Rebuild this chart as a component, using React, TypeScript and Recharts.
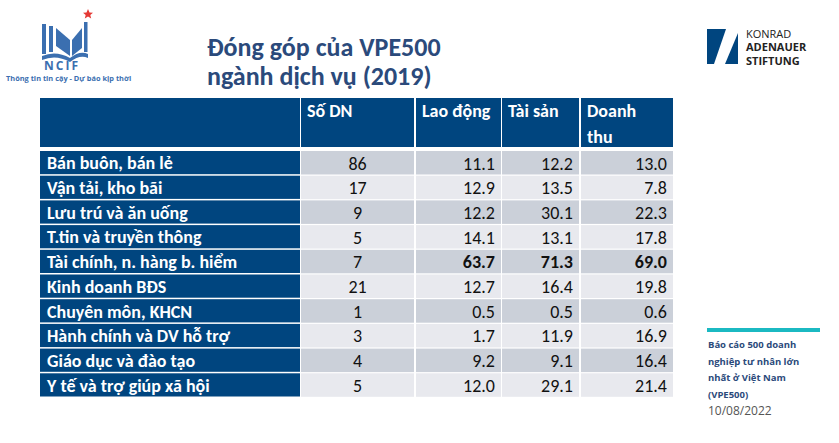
import React from "react"
import { BarChart, Bar, XAxis, YAxis } from "recharts"

// VPE500 - service sectors contribution (2019), %
const sectors = [
  "Bán buôn, bán lẻ",
  "Vận tải, kho bãi",
  "Lưu trú và ăn uống",
  "T.tin và truyền thông",
  "Tài chính, n. hàng b. hiểm",
  "Kinh doanh BĐS",
  "Chuyên môn, KHCN",
  "Hành chính và DV hỗ trợ",
  "Giáo dục và đào tạo",
  "Y tế và trợ giúp xã hội",
]
const firms = [86, 17, 9, 5, 7, 21, 1, 3, 4, 5]
const labour = [11.1, 12.9, 12.2, 14.1, 63.7, 12.7, 0.5, 1.7, 9.2, 12.0]
const assets = [12.2, 13.5, 30.1, 13.1, 71.3, 16.4, 0.5, 11.9, 9.1, 29.1]
const revenue = [13.0, 7.8, 22.3, 17.8, 69.0, 19.8, 0.6, 16.9, 16.4, 21.4]
const headers = ["Số DN", "Lao động", "Tài sản", "Doanh thu"]
const highlighted = "Tài chính, n. hàng b. hiểm"

const rows = sectors.map((name, i) => ({
  name,
  firms: firms[i],
  labour: labour[i],
  assets: assets[i],
  revenue: revenue[i],
}))

const W = 839
const H = 443
const FONT = "Carlito, 'Open Sans', 'Noto Sans', sans-serif"
const OPEN = "'Open Sans', sans-serif"
const BLUE = "#00457f"
const TITLE = "#2b4a7b"
const CELL_FS = 18

// column edges (px)
const colLeft = [40, 301, 416, 502, 581]
const colRight = [300, 414, 501, 579, 673]
const top = 151
const bottom = 398
const band = (bottom - top) / sectors.length

const NameTick = (props: any) => {
  const { y, payload } = props
  return (
    <g>
      <rect x={colLeft[0]} y={y - band / 2} width={colRight[0] - colLeft[0]} height={band - 1.5} fill={BLUE} />
      <text x={47} y={y + 6} fill="#fff" fontSize={CELL_FS} fontWeight={700} fontFamily={FONT}>
        {payload.value}
      </text>
    </g>
  )
}

const RowCells = (props: any) => {
  const { y, height, payload, index } = props
  const fill = index % 2 === 0 ? "#cbd0d9" : "#e8e9ee"
  const bold = payload.name === highlighted
  const base = y + height / 2 + 6
  const vals = [payload.labour, payload.assets, payload.revenue]
  return (
    <g>
      {[1, 2, 3, 4].map((c) => (
        <rect key={c} x={colLeft[c]} y={y} width={colRight[c] - colLeft[c]} height={height - 1.5} fill={fill} />
      ))}
      <text
        x={(colLeft[1] + colRight[1]) / 2}
        y={base}
        textAnchor="middle"
        fontSize={CELL_FS}
        fontFamily={FONT}
        fill="#111"
      >
        {payload.firms}
      </text>
      {vals.map((v: number, k: number) => (
        <text
          key={k}
          x={colRight[k + 2] - 6}
          y={base}
          textAnchor="end"
          fontSize={CELL_FS}
          fontWeight={bold ? 700 : 400}
          fontFamily={FONT}
          fill="#111"
        >
          {v.toFixed(1)}
        </text>
      ))}
    </g>
  )
}

function Overlay() {
  return (
    <svg width={W} height={H} style={{ position: "absolute", left: 0, top: 0, pointerEvents: "none" }}>
      {/* NCIF logo */}
      <g fill="#3b6fb0">
        <rect x={42} y={24} width={4} height={30} />
        <rect x={49} y={26} width={4} height={26} />
        <path d="M56 28 L70 40 L70 56 L56 46 Z" />
        <path d="M42 56 Q56 50 70 58 Q80 50 88 54 L88 58 Q80 54 70 62 Q56 54 42 60 Z" />
        <path d="M72 40 L82 28 L82 48 L72 56 Z" />
        <rect x={84} y={22} width={3.5} height={30} />
      </g>
      <polygon
        points="88,9 89.5,12.5 93,12.8 90.3,15 91.2,18.5 88,16.6 84.8,18.5 85.7,15 83,12.8 86.5,12.5"
        fill="#e53935"
      />
      <text x={44} y={70} fontSize={12} fontWeight={700} fill="#3b6fb0" fontFamily={OPEN} letterSpacing={2}>
        NCIF
      </text>
      <text x={6} y={81} fontSize={7.4} fontWeight={700} fill="#3b6fb0" fontFamily={OPEN}>
        Thông tin tin cậy - Dự báo kịp thời
      </text>

      {/* title */}
      <text x={207} y={56} fontSize={26} fontWeight={700} fill={TITLE} fontFamily={FONT}>
        Đóng góp của VPE500
      </text>
      <text x={207} y={85} fontSize={26} fontWeight={700} fill={TITLE} fontFamily={FONT}>
        ngành dịch vụ (2019)
      </text>

      {/* KAS logo */}
      <rect x={707} y={29} width={31} height={35} fill={BLUE} />
      <polygon points="726,29 738,29 738,33 725,64 714,64" fill="#fff" />
      <polygon points="730,54 738,54 738,58 728,58" fill={BLUE} />
      <text x={746} y={37.5} fontSize={11} fill="#222" fontFamily={OPEN}>KONRAD</text>
      <text x={746} y={51} fontSize={11} fontWeight={700} fill="#222" fontFamily={OPEN}>ADENAUER</text>
      <text x={746} y={64.5} fontSize={11} fontWeight={700} fill="#222" fontFamily={OPEN}>STIFTUNG</text>

      {/* header row */}
      {colLeft.map((l, c) => (
        <rect key={c} x={l} y={98} width={colRight[c] - l} height={49} fill={BLUE} />
      ))}
      {headers.map((h, i) => {
        const parts = h === "Doanh thu" ? ["Doanh", "thu"] : [h]
        return parts.map((p, j) => (
          <text
            key={i + "-" + j}
            x={colLeft[i + 1] + 6}
            y={117 + j * 26}
            fontSize={CELL_FS}
            fontWeight={700}
            fill="#fff"
            fontFamily={FONT}
          >
            {p}
          </text>
        ))
      })}

      {/* side note */}
      <rect x={707} y={328} width={113} height={4} fill="#1bb9c2" />
      {["Báo cáo 500 doanh", "nghiệp tư nhân lớn", "nhất ở Việt Nam", "(VPE500)"].map((t, i) => (
        <text key={i} x={708} y={348 + i * 16.7} fontSize={9.5} fontWeight={700} fill="#2b4a7b" fontFamily={OPEN}>
          {t}
        </text>
      ))}
      <text x={708} y={415} fontSize={12} fill="#555" fontFamily={OPEN}>
        10/08/2022
      </text>
    </svg>
  )
}

export default function App() {
  return (
    <div style={{ position: "absolute", left: 0, top: 0, width: W, height: H, background: "#fff" }}>
      <BarChart
        width={W}
        height={H}
        data={rows}
        layout="vertical"
        barCategoryGap={0}
        margin={{ top: top, bottom: H - bottom, left: colLeft[0], right: W - colRight[4] }}
      >
        <XAxis type="number" domain={[0, 1]} hide />
        <YAxis
          type="category"
          dataKey="name"
          width={colLeft[1] - colLeft[0]}
          axisLine={false}
          tickLine={false}
          interval={0}
          tick={<NameTick />}
        />
        <Bar dataKey={() => 1} shape={<RowCells />} isAnimationActive={false} />
      </BarChart>
      <Overlay />
    </div>
  )
}
